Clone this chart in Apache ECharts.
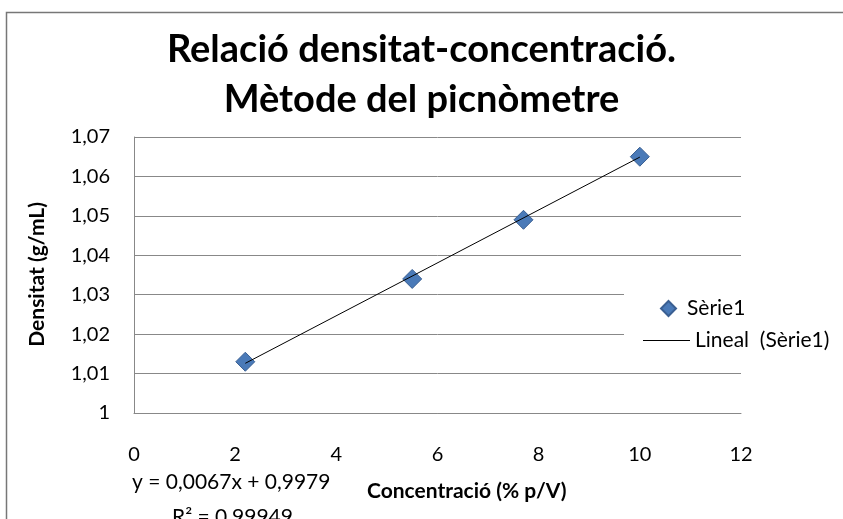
<!DOCTYPE html>
<html>
<head>
<meta charset="utf-8">
<script src="https://cdn.jsdelivr.net/npm/echarts@6/dist/echarts.min.js"></script>
<style>
  html, body { margin: 0; padding: 0; background: #fff; }
  #chart { width: 843px; height: 519px; }
</style>
</head>
<body>
<div id="chart"></div>
<script>
// valors llegits del gràfic
const concentracio = [2.2, 5.5, 7.7, 10];
const densitat = [1.013, 1.034, 1.049, 1.065];
// línia de tendència (extrems llegits de la imatge)
const tendenciaX = [2.2, 10];
const tendenciaY = [1.0126, 1.0649];
const xTicks = [0, 2, 4, 6, 8, 10, 12];
const yTicks = [1, 1.01, 1.02, 1.03, 1.04, 1.05, 1.06, 1.07];

const font = 'Lato, "Open Sans", sans-serif';

let chart = echarts.init(document.querySelector('#chart'));
chart.setOption({
    animation: false,
    backgroundColor: '#fff',
    title: {
        text: 'Relació densitat-concentració.\nMètode del picnòmetre',
        left: 'center',
        top: 20,
        textStyle: {
            fontFamily: font,
            fontSize: 38,
            fontWeight: 'bold',
            color: '#000',
            lineHeight: 50
        }
    },
    grid: { left: 134, right: 102, top: 137, bottom: 106 },
    xAxis: {
        type: 'value',
        min: xTicks[0],
        max: xTicks[xTicks.length - 1],
        interval: 2,
        axisLine: { show: true, lineStyle: { color: '#888' } },
        axisTick: { show: false },
        splitLine: { show: false },
        axisLabel: {
            margin: 32,
            fontFamily: font,
            fontSize: 20,
            color: '#000'
        }
    },
    yAxis: {
        type: 'value',
        min: yTicks[0],
        max: yTicks[yTicks.length - 1],
        interval: 0.01,
        axisLine: { show: true, lineStyle: { color: '#888' } },
        axisTick: { show: false },
        splitLine: { show: true, lineStyle: { color: '#888', width: 1 } },
        axisLabel: {
            margin: 24,
            fontFamily: font,
            fontSize: 20,
            color: '#000',
            formatter: function (v) {
                return Number(v.toFixed(2)).toString().replace('.', ',');
            }
        }
    },
    legend: [{
        data: [{ name: 'Sèrie1', icon: 'diamond' }],
        orient: 'vertical',
        left: 624,
        top: 288,
        itemWidth: 15,
        itemHeight: 15,
        padding: [10, 120, 10, 36],
        backgroundColor: '#fff',
        textStyle: { fontFamily: font, fontSize: 21, color: '#000', padding: [0, 0, 0, 6] }
    }, {
        data: [{ name: 'Lineal  (Sèrie1)', icon: 'rect' }],
        orient: 'vertical',
        left: 624,
        top: 320,
        itemWidth: 47,
        itemHeight: 1,
        padding: [10, 40, 10, 19],
        backgroundColor: '#fff',
        textStyle: { fontFamily: font, fontSize: 21, color: '#000', padding: [0, 0, 0, 0] }
    }],
    graphic: [{
        type: 'rect',
        shape: { x: 6.5, y: 12.5, width: 860, height: 530 },
        style: { fill: 'none', stroke: '#777', lineWidth: 1.5 },
        z: 10
    }, {
        type: 'text',
        left: 132,
        top: 472,
        style: { text: 'y = 0,0067x + 0,9979', font: '21px ' + font, fill: '#000' }
    }, {
        type: 'text',
        left: 172,
        top: 507,
        style: { text: 'R² = 0,99949', font: '21px ' + font, fill: '#000' }
    }, {
        type: 'text',
        left: 367,
        top: 481,
        style: { text: 'Concentració (% p/V)', font: 'bold 21px ' + font, fill: '#000' }
    }, {
        type: 'text',
        left: 27,
        top: 202,
        rotation: Math.PI / 2,
        style: { text: 'Densitat (g/mL)', font: 'bold 21px ' + font, fill: '#000' }
    }],
    series: [{
        name: 'Lineal  (Sèrie1)',
        type: 'line',
        data: tendenciaX.map((x, i) => [x, tendenciaY[i]]),
        symbol: 'none',
        itemStyle: { color: '#000' },
        lineStyle: { color: '#000', width: 1 },
        z: 3
    }, {
        name: 'Sèrie1',
        type: 'scatter',
        data: concentracio.map((x, i) => [x, densitat[i]]),
        symbol: 'diamond',
        symbolSize: 19,
        itemStyle: { color: '#4a7ab8', borderColor: '#3a5f92', borderWidth: 1, opacity: 1 },
        z: 2
    }]
});
</script>
</body>
</html>
